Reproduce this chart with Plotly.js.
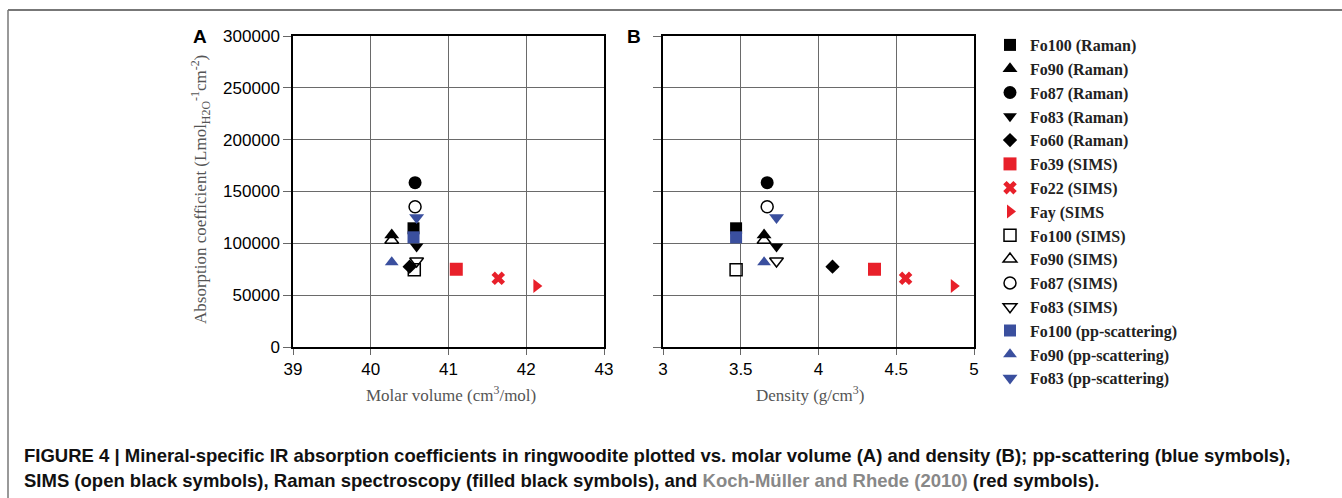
<!DOCTYPE html>
<html>
<head>
<meta charset="utf-8">
<script src="https://cdn.plot.ly/plotly-3.0.1.min.js"></script>
<style>
  html, body { margin: 0; padding: 0; background: #fff; }
  #chart { width: 1342px; height: 498px; }
</style>
</head>
<body>
<div id="chart"></div>
<script>
// ---- Data ----
const seriesNames = [
  "Fo100 (Raman)", "Fo90 (Raman)", "Fo87 (Raman)", "Fo83 (Raman)", "Fo60 (Raman)",
  "Fo39 (SIMS)", "Fo22 (SIMS)", "Fay (SIMS",
  "Fo100 (SIMS)", "Fo90 (SIMS)", "Fo87 (SIMS)", "Fo83 (SIMS)",
  "Fo100 (pp-scattering)", "Fo90 (pp-scattering)", "Fo83 (pp-scattering)"
];
const molarVolume = [40.55, 40.27, 40.57, 40.59, 40.50, 41.10, 41.64, 42.13, 40.56, 40.27, 40.57, 40.59, 40.55, 40.27, 40.59];
const density     = [3.47, 3.65, 3.67, 3.73, 4.09, 4.36, 4.56, 4.87, 3.47, 3.65, 3.67, 3.73, 3.47, 3.65, 3.73];
const absorption  = [114500, 108000, 158500, 97000, 77500, 75000, 66300, 58800, 74500, 103000, 135300, 83000, 105800, 81700, 125000];

// ---- Styles ----
const BLACK = "#000000", RED = "#e8202a", BLUE = "#3a4f9e";
const symbols = ["square", "triangle-up", "circle", "triangle-down", "diamond",
  "square", "x", "triangle-right",
  "square-open", "triangle-up-open", "circle-open", "triangle-down-open",
  "square", "triangle-up", "triangle-down"];
const colors = [BLACK, BLACK, BLACK, BLACK, BLACK, RED, RED, RED, BLACK, BLACK, BLACK, BLACK, BLUE, BLUE, BLUE];
const sizes = [12, 13, 13, 12, 11, 13, 12, 12, 12, 12, 12, 12, 12, 12, 13];

const W = 1342, H = 498;
const px = v => v / W;
const py = v => 1 - v / H;

const traces = [];
seriesNames.forEach((name, i) => {
  const open = symbols[i].endsWith("-open");
  const marker = {
    symbol: symbols[i], size: sizes[i], color: colors[i],
    line: { width: open ? 1.5 : 0, color: colors[i] }
  };
  traces.push({
    type: "scatter", mode: "markers", name: name, legendgroup: "g" + i,
    x: [molarVolume[i]], y: [absorption[i]], xaxis: "x", yaxis: "y",
    marker: marker, hoverinfo: "name+x+y"
  });
  traces.push({
    type: "scatter", mode: "markers", name: name, legendgroup: "g" + i, showlegend: false,
    x: [density[i]], y: [absorption[i]], xaxis: "x2", yaxis: "y2",
    marker: marker, hoverinfo: "name+x+y"
  });
});

const tickFont = { family: "Liberation Sans, Arial, sans-serif", size: 17, color: "#000" };
const common = {
  showgrid: true, gridcolor: "#6a6a6a", gridwidth: 1,
  showline: true, mirror: true, linecolor: "#000", linewidth: 1.5,
  ticks: "outside", tickcolor: "#666", tickwidth: 1,
  zeroline: false, tickfont: tickFont, fixedrange: true
};
const yDomain = [py(347), py(36)];

const serif = "Liberation Serif, Times New Roman, serif";
const sans = "Liberation Sans, Arial, sans-serif";

const layout = {
  width: W, height: H,
  margin: { l: 0, r: 0, t: 0, b: 0 },
  paper_bgcolor: "#fff", plot_bgcolor: "#fff",
  showlegend: true,
  legend: {
    x: px(990), y: py(28), xanchor: "left", yanchor: "top",
    font: { family: serif, size: 16, color: "#222", weight: "bold" },
    traceorder: "grouped", tracegroupgap: 0, bgcolor: "rgba(0,0,0,0)"
  },
  xaxis: Object.assign({}, common, { domain: [px(293), px(604)], range: [39, 43], dtick: 1, tick0: 39, ticklen: 6, anchor: "y" }),
  yaxis: Object.assign({}, common, { domain: yDomain, range: [0, 300000], dtick: 50000, tick0: 0, ticklen: 8, tickformat: "d", anchor: "x" }),
  xaxis2: Object.assign({}, common, { domain: [px(663), px(974)], range: [3, 5], dtick: 0.5, tick0: 3, ticklen: 6, anchor: "y2" }),
  yaxis2: Object.assign({}, common, { domain: yDomain, range: [0, 300000], dtick: 50000, tick0: 0, ticklen: 8, showticklabels: false, anchor: "x2" }),
  shapes: [
    { type: "line", xref: "paper", yref: "paper", x0: px(8), x1: 1, y0: py(10), y1: py(10), line: { color: "#777", width: 2 } },
    { type: "line", xref: "paper", yref: "paper", x0: px(8), x1: px(8), y0: py(10), y1: 0, line: { color: "#777", width: 1.5 } }
  ],
  annotations: [
    { text: "<b>A</b>", xref: "paper", yref: "paper", x: px(200), y: py(36), xanchor: "center", yanchor: "middle", showarrow: false, font: { family: sans, size: 19, color: "#000" } },
    { text: "<b>B</b>", xref: "paper", yref: "paper", x: px(634), y: py(36), xanchor: "center", yanchor: "middle", showarrow: false, font: { family: sans, size: 19, color: "#000" } },
    { text: "Absorption coefficient (Lmol<sub>H2O</sub><sup>-1</sup>cm<sup>-2</sup>)", xref: "paper", yref: "paper", x: px(200), y: py(190), xanchor: "center", yanchor: "middle", textangle: -90, showarrow: false, font: { family: serif, size: 17, color: "#555" } },
    { text: "Molar volume (cm<sup>3</sup>/mol)", xref: "paper", yref: "paper", x: px(451), y: py(394), xanchor: "center", yanchor: "middle", showarrow: false, font: { family: serif, size: 17, color: "#555" } },
    { text: "Density (g/cm<sup>3</sup>)", xref: "paper", yref: "paper", x: px(810), y: py(394), xanchor: "center", yanchor: "middle", showarrow: false, font: { family: serif, size: 17, color: "#555" } },
    { text: "<b>FIGURE 4 | Mineral-specific IR absorption coefficients in ringwoodite plotted vs. molar volume (A) and density (B); pp-scattering (blue symbols),</b>", xref: "paper", yref: "paper", x: px(22), y: py(455), xanchor: "left", yanchor: "middle", showarrow: false, font: { family: sans, size: 18.5, color: "#111" } },
    { text: "<b>SIMS (open black symbols), Raman spectroscopy (filled black symbols), and <span style=\"fill:#888888\">Koch-Müller and Rhede (2010)</span> (red symbols).</b>", xref: "paper", yref: "paper", x: px(22), y: py(480), xanchor: "left", yanchor: "middle", showarrow: false, font: { family: sans, size: 18.5, color: "#111" } }
  ]
};

Plotly.newPlot("chart", traces, layout, { displayModeBar: false, staticPlot: false });
</script>
</body>
</html>
